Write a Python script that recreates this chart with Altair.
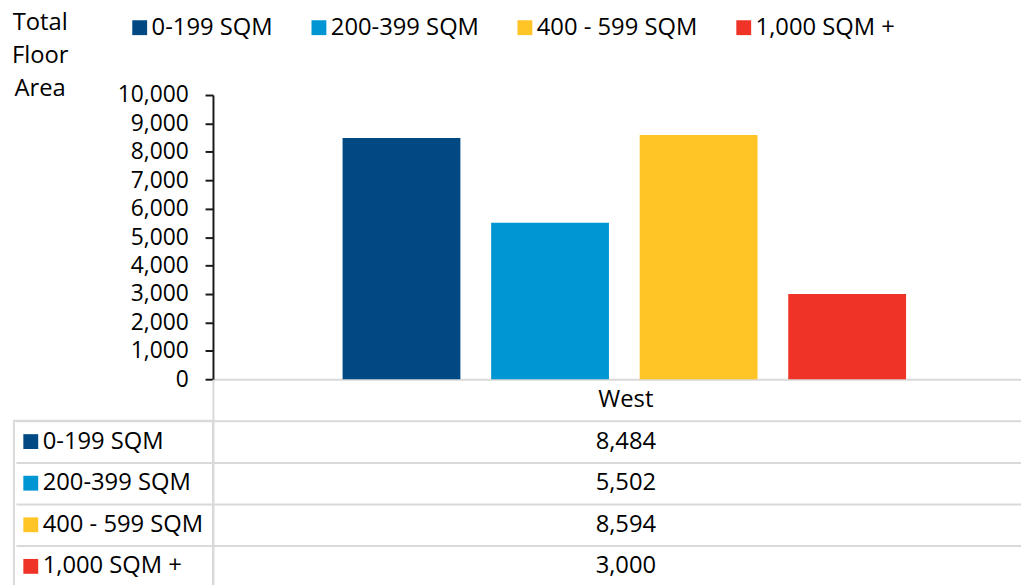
import altair as alt
import pandas as pd

# ---- data ----
region = "West"
series = ["0-199 SQM", "200-399 SQM", "400 - 599 SQM", "1,000 SQM +"]
values = [8484, 5502, 8594, 3000]
colors = ["#004983", "#0095D3", "#FFC425", "#EF3326"]
y_ticks = [0, 1000, 2000, 3000, 4000, 5000, 6000, 7000, 8000, 9000, 10000]
y_title = ["Total", "Floor", "Area"]

FONT = "Open Sans"
FS = 24
TICK_FS = 23
GRAY = "#d9d9d9"
AXIS_BLACK = "#1a1a1a"

bars_df = pd.DataFrame({"region": region, "series": series, "value": values})
rows = [region] + series
table_df = pd.DataFrame({
    "region": region,
    "row": rows,
    "label": [region] + [f"{v:,}" for v in values],
})
key_df = pd.DataFrame({"row": series})

# ---- bar chart ----
bars = alt.Chart(bars_df).mark_bar().encode(
    x=alt.X(
        "series:N", sort=series,
        scale=alt.Scale(domain=series, paddingInner=0.207, paddingOuter=0.823, align=0.53),
        axis=alt.Axis(labels=False, ticks=False, title=None, domainColor=GRAY, domainWidth=2),
    ),
    y=alt.Y(
        "value:Q",
        scale=alt.Scale(domain=[0, 10000], nice=False),
        axis=alt.Axis(
            values=y_ticks, format=",.0f", grid=False,
            labelFont=FONT, labelFontSize=TICK_FS, labelColor="black", labelPadding=17,
            domainColor=AXIS_BLACK, domainWidth=2, tickColor=AXIS_BLACK, tickWidth=2, tickSize=8,
            title=y_title, titleAngle=0, titleAlign="center", titleBaseline="alphabetic",
            titleX=-175, titleY=-66, titleFont=FONT, titleFontSize=FS, titleFontWeight="normal",
            titleColor="black", titleLineHeight=33,
        ),
    ),
    color=alt.Color(
        "series:N", sort=series,
        scale=alt.Scale(domain=series, range=colors),
        legend=alt.Legend(
            orient="none", legendX=-82, legendY=-80, direction="horizontal", title=None,
            symbolType="square", symbolSize=225, symbolStrokeWidth=0, symbolOffset=-4,
            labelFont=FONT, labelFontSize=FS, labelColor="black", labelOffset=0,
            columnPadding=38, padding=0, labelLimit=400,
        ),
    ),
).properties(width=816, height=287)

# ---- data table ----
y_rows = alt.Y(
    "row:N", sort=rows,
    scale=alt.Scale(domain=rows, paddingInner=0, paddingOuter=0),
    axis=alt.Axis(
        values=series, tickBand="extent", labels=False, title=None,
        tickSize=199, tickColor=GRAY, tickWidth=2,
        grid=True, gridColor=GRAY, gridWidth=2,
        domainColor=GRAY, domainWidth=2,
    ),
)

text = alt.Chart(table_df).mark_text(font=FONT, fontSize=FS, color="black").encode(
    x=alt.X(
        "region:N",
        scale=alt.Scale(type="point", domain=[region], align=0.511),
        axis=None,
    ),
    y=y_rows,
    text="label:N",
)

keys = alt.Chart(key_df).mark_square(size=225, opacity=0).encode(
    y=y_rows,
    shape=alt.Shape(
        "row:N", sort=series,
        scale=alt.Scale(domain=series, range=["square", "square", "square", "square"]),
        legend=None,
    ),
    fill=alt.Fill(
        "row:N", sort=series,
        scale=alt.Scale(domain=series, range=colors),
        legend=alt.Legend(
            orient="none", legendX=-201, legendY=42, direction="vertical", title=None,
            symbolType="square", symbolSize=225, symbolStrokeWidth=0, symbolOpacity=1,
            symbolOffset=-4,
            labelFont=FONT, labelFontSize=FS, labelColor="black", labelOffset=0,
            rowPadding=18, padding=9, strokeColor=GRAY, labelLimit=400,
        ),
    ),
)

table = alt.layer(text, keys).properties(width=816, height=210)

chart = (
    alt.vconcat(bars, table, spacing=0, bounds="flush")
    .resolve_scale(color="independent", fill="independent")
    .resolve_legend(color="independent", fill="independent")
    .properties(padding={"left": 3, "top": 0, "right": 0, "bottom": 0})
    .configure_view(stroke=None)
    .configure_legend(strokeWidth=2)
)

chart.save("out.html", embed_options={"renderer": "svg", "actions": False})
